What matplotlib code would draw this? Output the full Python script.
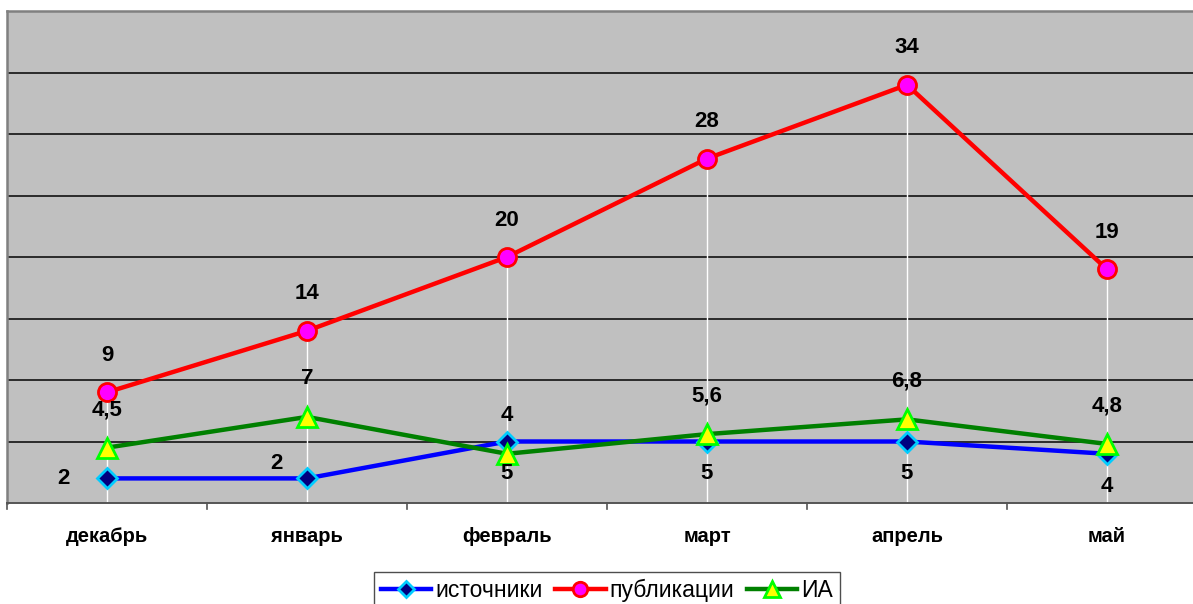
import matplotlib
matplotlib.use("Agg")
import matplotlib.pyplot as plt

plt.rcParams['font.family'] = ['Liberation Sans', 'DejaVu Sans']

categories = ['декабрь', 'январь', 'февраль', 'март', 'апрель', 'май']
istochniki = [2, 2, 5, 5, 5, 4]
publikacii = [9, 14, 20, 28, 34, 19]
ia = [4.5, 7, 4, 5.6, 6.8, 4.8]
ia_labels = ['4,5', '7', '4', '5,6', '6,8', '4,8']
ist_labels = ['2', '2', '5', '5', '5', '4']
pub_labels = ['9', '14', '20', '28', '34', '19']

W, H = 1193, 604
fig = plt.figure(figsize=(W / 100, H / 100), dpi=100)
left, right, top, bottom = 7, 1207, 11, 503
ax = fig.add_axes([left / W, 1 - bottom / H, (right - left) / W, (bottom - top) / H])
ax.set_facecolor('#C0C0C0')
x = list(range(len(categories)))
ax.set_xlim(-0.5, len(categories) - 0.5)
ax.set_ylim(0, 40)

# gridlines
for gy in range(5, 40, 5):
    ax.axhline(gy, color='#111111', lw=1.2, zorder=1)

# drop lines
tops = [max(a, b, c) for a, b, c in zip(istochniki, publikacii, ia)]
ax.vlines(x, 0, tops, colors='white', lw=1, zorder=2)

ax.plot(x, istochniki, color='#0000FF', lw=3.2, marker='D', ms=10,
        mfc='#000080', mec='#00CCFF', mew=2, zorder=5, label='источники')
ax.plot(x, publikacii, color='#FF0000', lw=3.2, marker='o', ms=13,
        mfc='#FF00FF', mec='#FF0000', mew=2, zorder=5, label='публикации')
ax.plot(x, ia, color='#008000', lw=3.2, marker='^', ms=14,
        mfc='#FFFF00', mec='#00FF00', mew=2, zorder=6, label='ИА')

lab_kw = dict(textcoords='offset pixels', ha='center', va='center',
              fontsize=16, fontweight='bold', color='black', zorder=8)
for i in x:
    ax.annotate(pub_labels[i], (i, publikacii[i]), xytext=(0, 37), **lab_kw)
    ax.annotate(ia_labels[i], (i, ia[i]), xytext=(0, 38), **lab_kw)
ist_offsets = [(-44, 0), (-31, 15), (0, -32), (0, -32), (0, -32), (0, -33)]
for i in x:
    ax.annotate(ist_labels[i], (i, istochniki[i]), xytext=ist_offsets[i], **lab_kw)

# axes styling
ax.set_yticks([])
ax.set_xticks(x)
ax.set_xticklabels(categories, fontsize=14.5, fontweight='bold')
ax.tick_params(axis='x', length=0, pad=17)
for b in [i - 0.5 for i in range(len(categories) + 1)]:
    ax.plot([b, b], [0, -0.5], color='#555555', lw=1.2, clip_on=False, zorder=3)
ax.spines['left'].set_color('#808080')
ax.spines['left'].set_linewidth(1.8)
ax.spines['top'].set_color('#808080')
ax.spines['top'].set_linewidth(1.8)
ax.spines['bottom'].set_color('#555555')
ax.spines['bottom'].set_linewidth(1.4)
ax.spines['right'].set_visible(False)

leg = fig.legend(loc='upper center', bbox_to_anchor=(607 / W, 1 - 572 / H), ncol=3,
                 fontsize=16.5, frameon=True, fancybox=False, edgecolor='#222222',
                 handlelength=2.2, handletextpad=0.17, columnspacing=0.55,
                 borderpad=0.3, borderaxespad=0, markerscale=0.8)
leg.get_frame().set_linewidth(1.0)

fig.savefig('out.png', dpi=100, facecolor='white')
